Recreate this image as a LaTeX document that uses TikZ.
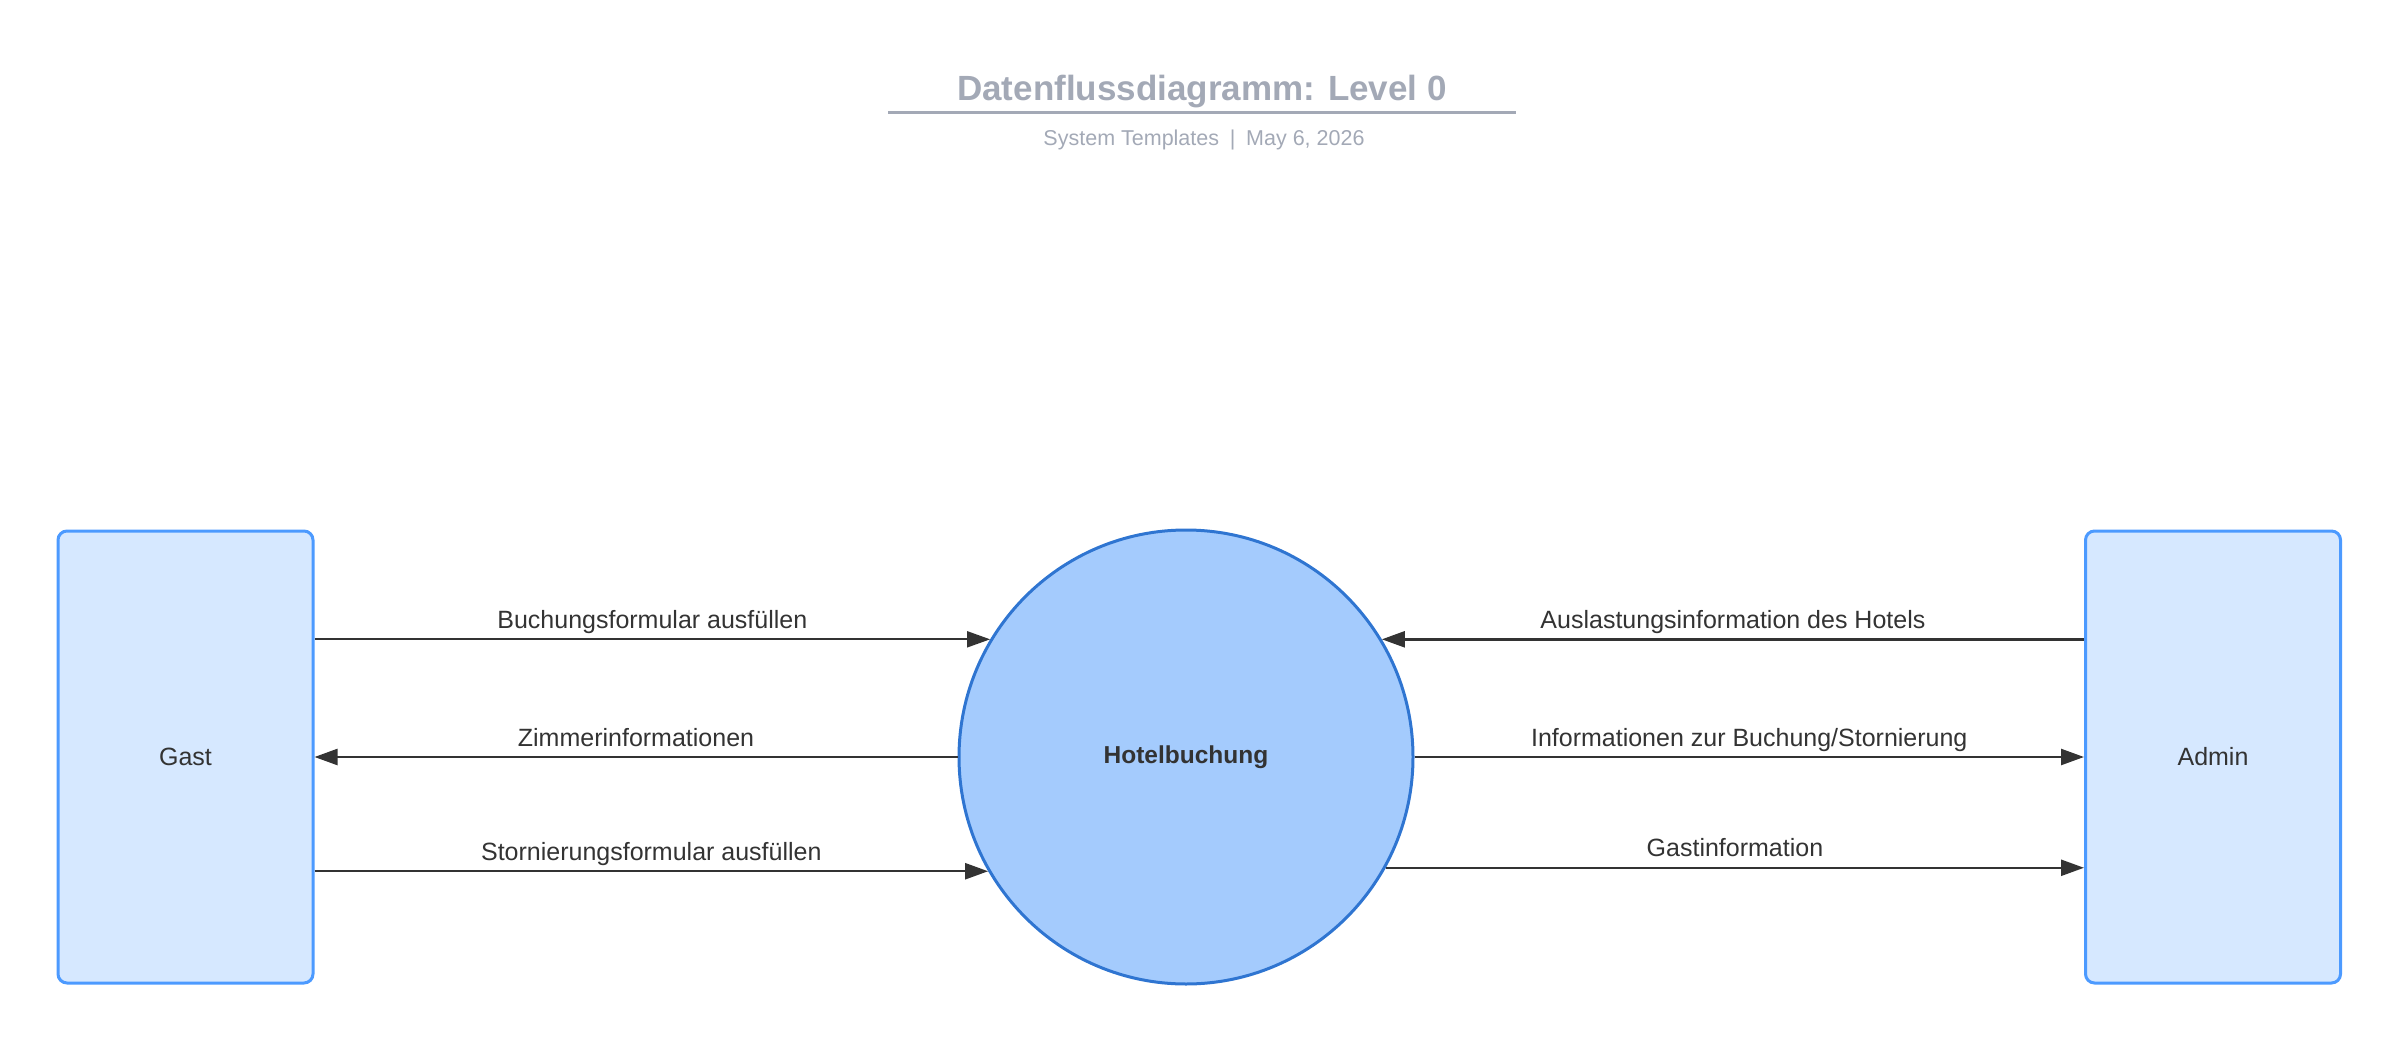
\documentclass[tikz,border=0pt]{standalone}
\usepackage{fontspec}
\setmainfont{Liberation Sans}
\usetikzlibrary{arrows.meta,positioning,calc}
\definecolor{entfill}{HTML}{D6E8FF}
\definecolor{entline}{HTML}{4C9AFF}
\definecolor{procfill}{HTML}{A4CBFD}
\definecolor{procline}{HTML}{2F75D1}
\definecolor{ink}{HTML}{333333}
\definecolor{muted}{HTML}{A3A9B6}
\tikzset{
    entity/.style={draw=entline,fill=entfill,line width=3pt,rounded corners=9pt,minimum width=255pt,minimum height=452pt,inner sep=0pt,text=ink,font=\fontsize{25}{30}\selectfont},
    process/.style={circle,draw=procline,fill=procfill,line width=3pt,minimum size=454pt,inner sep=0pt,text=ink,font=\fontsize{24.5}{30}\selectfont\bfseries},
    flow/.style={-{Triangle[length=23pt,width=16pt]},line width=2.4pt,draw=ink},
    flowlabel/.style={midway,anchor=base,yshift=11pt,inner sep=0pt,text=ink,font=\fontsize{25}{30}\selectfont}
}
\begin{document}
\begin{tikzpicture}[x=1pt,y=-1pt]
    \useasboundingbox (0,0) rectangle (2401,1043);

    % header
    \node[font=\fontsize{35}{42}\selectfont\bfseries,text=muted] (title) at (1202,92) {Datenflussdiagramm: Level 0};
    \draw[muted,line width=3pt] (888,113) -- (1516,113);
    \node[font=\fontsize{21.5}{25}\selectfont,text=muted] (sub) at (1204,140) {System Templates\enspace|\enspace May 6, 2026};

    % entities and process
    \node[entity] (gast) at (185.5,757) {Gast};
    \node[entity] (admin) at (2213,757) {Admin};
    \node[process] (hub) at (1186,757) {Hotelbuchung};

    % data flows
    \draw[flow,line width=1.8pt] (gast.east |- hub.149) -- (hub.149) node[flowlabel] {Buchungsformular ausfüllen};
    \draw[flow] (hub.west) -- (gast.east) node[flowlabel] {Zimmerinformationen};
    \draw[flow] (gast.east |- hub.210) -- (hub.210) node[flowlabel] {Stornierungsformular ausfüllen};
    \draw[flow] (admin.west |- hub.31.5) -- (hub.31.5) node[flowlabel] {Auslastungsinformation des Hotels};
    \draw[flow] (hub.east) -- (admin.west) node[flowlabel] {Informationen zur Buchung/Stornierung};
    \draw[flow] (hub.-29) -- (admin.west |- hub.-29) node[flowlabel] {Gastinformation};
\end{tikzpicture}
\end{document}
